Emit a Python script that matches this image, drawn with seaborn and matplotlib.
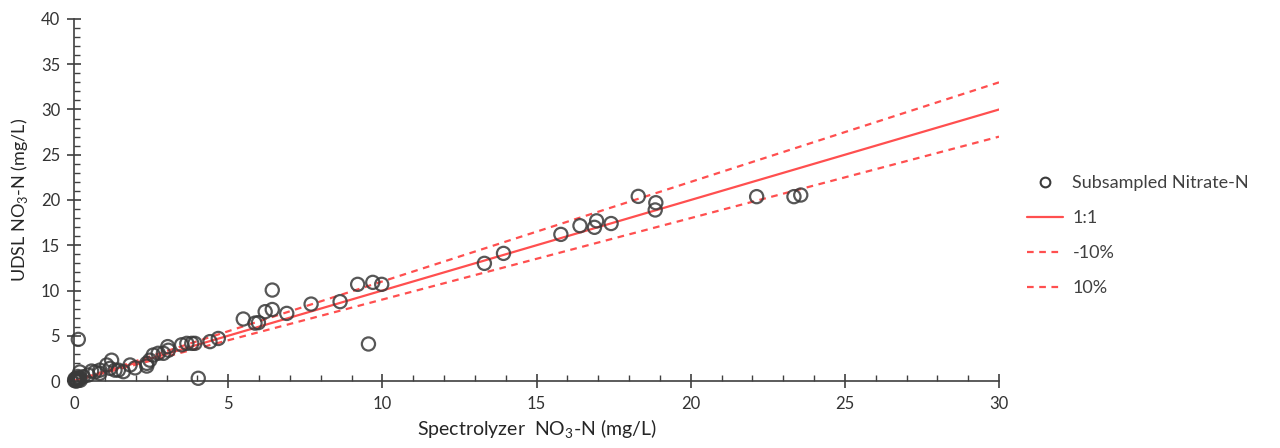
import matplotlib
matplotlib.use("Agg")
import matplotlib.pyplot as plt
from matplotlib.ticker import MultipleLocator
from matplotlib.lines import Line2D
import seaborn as sns
import pandas as pd

# Spectrolyzer NO3-N (x) vs UDSL NO3-N (y), mg/L
spectro_x = [0.02, 0.05, 0.10, 0.08, 0.15, 0.20, 0.03, 0.12, 0.18, 0.06,
             0.14, 0.19, 0.30, 0.46, 0.57, 0.68, 0.84, 0.84, 1.06, 1.17,
             1.22, 1.33, 1.44, 1.60, 1.82, 1.98, 2.36, 2.36, 2.46, 2.57,
             2.73, 2.90, 3.06, 3.04, 3.49, 3.66, 3.82, 3.92, 4.03, 4.41,
             4.68, 5.49, 5.87, 5.98, 6.20, 6.43, 6.43, 6.90, 7.69, 8.63,
             9.20, 9.55, 9.69, 9.98, 13.31, 13.93, 15.79, 16.41, 16.88, 16.95,
             17.42, 18.30, 18.85, 18.87, 22.14, 23.35, 23.57]
udsl_y = [0.05, 0.12, 0.02, 0.30, 0.15, 0.08, 0.22, 0.50, 0.35, 0.00,
          4.60, 1.00, 0.47, 0.66, 1.10, 1.00, 0.85, 1.20, 1.77, 1.40,
          2.30, 1.20, 1.20, 1.03, 1.77, 1.45, 1.65, 1.95, 2.30, 2.87,
          3.06, 3.06, 3.40, 3.80, 4.00, 4.16, 4.16, 4.16, 0.30, 4.35,
          4.70, 6.85, 6.40, 6.45, 7.66, 7.90, 10.05, 7.47, 8.50, 8.77,
          10.68, 4.09, 10.90, 10.68, 13.00, 14.10, 16.20, 17.16, 16.98, 17.70,
          17.40, 20.40, 18.90, 19.70, 20.37, 20.37, 20.55]

# Reference lines
ref_x = [0, 30]
one_to_one = [0, 30]
minus10 = [0, 27]
plus10 = [0, 33]

x_ticks = [0, 5, 10, 15, 20, 25, 30]
y_ticks = [0, 5, 10, 15, 20, 25, 30, 35, 40]

sns.set_theme(style="white")
plt.rcParams['font.family'] = ['Lato', 'DejaVu Sans']
plt.rcParams['mathtext.fontset'] = 'custom'
plt.rcParams['mathtext.rm'] = 'Lato'

fig = plt.figure(figsize=(12.8, 4.48), dpi=100)
ax = fig.add_axes([74/1280, 67/448, (999-74)/1280, (381-19)/448])

red = "#FF4F4F"
pts = pd.DataFrame({"x": spectro_x, "y": udsl_y})
sns.scatterplot(data=pts, x="x", y="y", ax=ax, marker="o", s=90,
                facecolors="none", edgecolor="#3a3a3a", linewidth=1.6,
                alpha=0.85, zorder=3, clip_on=False)

lines = pd.DataFrame({"x": ref_x, "one": one_to_one, "m10": minus10, "p10": plus10})
sns.lineplot(data=lines, x="x", y="one", ax=ax, color=red, linewidth=1.6, zorder=2)
sns.lineplot(data=lines, x="x", y="m10", ax=ax, color=red, linewidth=1.6,
             linestyle=(0, (3, 2.5)), zorder=2)
sns.lineplot(data=lines, x="x", y="p10", ax=ax, color=red, linewidth=1.6,
             linestyle=(0, (3, 2.5)), zorder=2)

ax.set_xlim(0, 30)
ax.set_ylim(0, 40)
ax.set_xticks(x_ticks)
ax.set_yticks(y_ticks)
ax.xaxis.set_minor_locator(MultipleLocator(1))
ax.yaxis.set_minor_locator(MultipleLocator(1))
for side in ["top", "right"]:
    ax.spines[side].set_visible(False)
for side in ["left", "bottom"]:
    ax.spines[side].set_color("#404040")
    ax.spines[side].set_linewidth(1.2)
ax.tick_params(axis="both", which="both", bottom=True, left=True, top=False, right=False)
ax.tick_params(axis="both", which="major", direction="inout", length=10,
               width=1.2, color="#404040", labelsize=12, labelcolor="#333333")
ax.tick_params(axis="both", which="minor", direction="in", length=4,
               width=1.0, color="#404040")
ax.tick_params(axis="x", which="major", pad=6)
ax.tick_params(axis="y", which="major", pad=5)

ax.set_xlabel("Spectrolyzer  NO$_3$-N (mg/L)", fontsize=14, color="#262626", labelpad=4)
ax.set_ylabel("UDSL NO$_3$-N (mg/L)", fontsize=13, color="#262626", labelpad=8)

handles = [
    Line2D([], [], marker="o", linestyle="none", markerfacecolor="none",
           markeredgecolor="#3a3a3a", markersize=7, markeredgewidth=1.5),
    Line2D([], [], color=red, linewidth=1.6),
    Line2D([], [], color=red, linewidth=1.6, linestyle=(0, (3, 2.5))),
    Line2D([], [], color=red, linewidth=1.6, linestyle=(0, (3, 2.5))),
]
labels = ["Subsampled Nitrate-N", "1:1", "-10%", "10%"]
fig.legend(handles, labels, loc="upper left", bbox_to_anchor=(1011/1280, 1 - 159/448),
           frameon=False, fontsize=13, labelcolor="#404040", handlelength=2.0,
           handletextpad=0.5, labelspacing=1.05)

fig.savefig("out.png", dpi=100)
